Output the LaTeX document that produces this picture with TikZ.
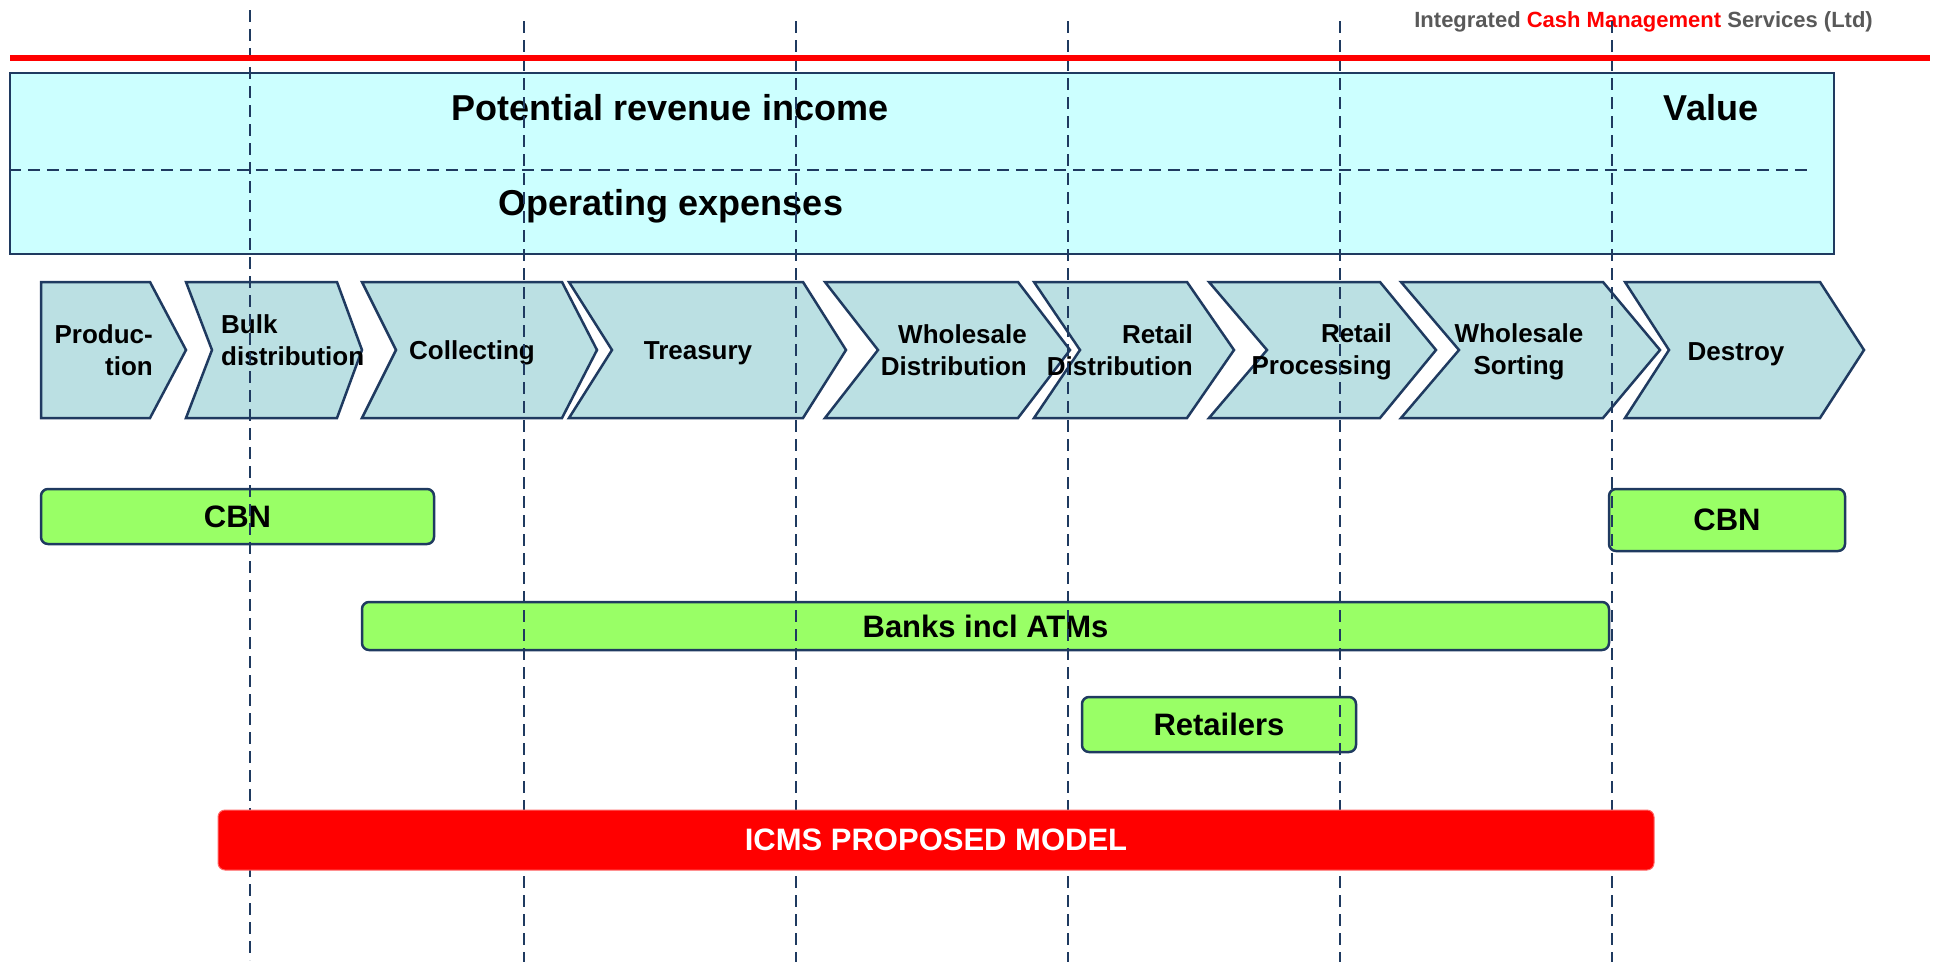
\documentclass[tikz,border=0pt]{standalone}
\usepackage{fontspec}
\setmainfont{Liberation Sans}
\usepackage{xcolor}
\definecolor{navy}{HTML}{1F3A60}
\definecolor{bandfill}{HTML}{CCFFFF}
\definecolor{chevfill}{HTML}{BBE0E3}
\definecolor{boxgreen}{HTML}{99FF66}
\definecolor{titlegray}{HTML}{595959}
% one stage of the value chain: left x, body end x, tip x, notch x
\newcommand{\chevron}[4]{\draw[chev] (#1,282) -- (#2,282) -- (#3,350) -- (#2,418) -- (#1,418) -- (#4,350) -- cycle;}

\begin{document}
\begin{tikzpicture}[
    x=1pt, y=-1pt,
    chev/.style={draw=navy, line width=2.5pt, fill=chevfill},
    stage/.style={font=\fontsize{26}{32}\selectfont\bfseries, inner sep=0pt},
    band/.style={draw=navy, line width=2.5pt, fill=bandfill, inner sep=0pt},
    head/.style={font=\fontsize{36}{40}\selectfont\bfseries, inner sep=0pt},
    actor/.style={draw=navy, line width=2.5pt, fill=boxgreen, rounded corners=7pt, font=\fontsize{31}{36}\selectfont\bfseries, inner sep=0pt},
    model/.style={draw=red!60, line width=1pt, fill=red, rounded corners=7pt, text=white, font=\fontsize{31}{36}\selectfont\bfseries, inner sep=0pt},
    guide/.style={draw=navy, line width=2pt, dash pattern=on 12pt off 7pt}
]
\useasboundingbox (0,0) rectangle (1935,967);

\node[anchor=base east, inner sep=0pt, text=titlegray, font=\fontsize{22}{26}\selectfont\bfseries] (title) at (1873,27)
    {Integrated \textcolor{red}{Cash Management} Services (Ltd)};

% revenue / expenses band
\node[band, minimum width=1824pt, minimum height=181pt] (band) at (922,163.5) {};
\draw[guide] (band.west |- 0,170) -- (1813,170);
\node[head, anchor=base] (revenue) at (670,120) {Potential revenue income};
\node[head, anchor=base] (value) at (1711,120) {Value};
\node[head, anchor=base] (opex) at (671,215) {Operating expenses};

% value chain stages
\chevron{41}{150}{186}{41}
\chevron{186}{337}{362}{212}
\chevron{362}{562}{597}{396}
\chevron{569}{803}{846}{612}
\chevron{825}{1018}{1070}{878}
\chevron{1034}{1187}{1234}{1080}
\chevron{1209}{1380}{1436}{1267}
\chevron{1401}{1603}{1660}{1459}
\chevron{1625}{1820}{1864}{1669}
\node[stage, align=right, anchor=east] (prod) at (153,350) {Produc-\\tion};
\node[stage, align=left, anchor=west] (bulk) at (221,340) {Bulk\\distribution};
\node[stage, anchor=base] (coll) at (472,359) {Collecting};
\node[stage, anchor=base] (treas) at (698,359) {Treasury};
\node[stage, align=right, anchor=east] (whdist) at (1027,350) {Wholesale\\Distribution};
\node[stage, align=right, anchor=east] (rtdist) at (1193,350) {Retail\\Distribution};
\node[stage, align=right, anchor=east] (rtproc) at (1392,352) {Retail\\Processing};
\node[stage, align=center] (whsort) at (1519,352) {Wholesale\\Sorting};
\node[stage, anchor=base] (destroy) at (1736,360) {Destroy};

% who plays along the chain
\node[actor, minimum width=393pt, minimum height=55pt] (cbnL) at (237.5,516.5) {CBN};
\node[actor, minimum width=236pt, minimum height=62pt] (cbnR) at (1727,520) {CBN};
\node[actor, minimum width=1247pt, minimum height=48pt] (banks) at (985.5,626) {Banks incl ATMs};
\node[actor, minimum width=274pt, minimum height=55pt] (retail) at (1219,724.5) {Retailers};

% column guides
\draw[guide] (250,10) -- (250,960);
\draw[guide] (524,21) -- (524,962);
\draw[guide] (796,21) -- (796,962);
\draw[guide] (1068,21) -- (1068,962);
\draw[guide] (1340,21) -- (1340,962);
\draw[guide] (1612,21) -- (1612,962);

\draw[red, line width=6pt] (10,58) -- (1930,58);
\node[model, minimum width=1436pt, minimum height=60pt] (icms) at (936,840) {ICMS PROPOSED MODEL};
\end{tikzpicture}
\end{document}
